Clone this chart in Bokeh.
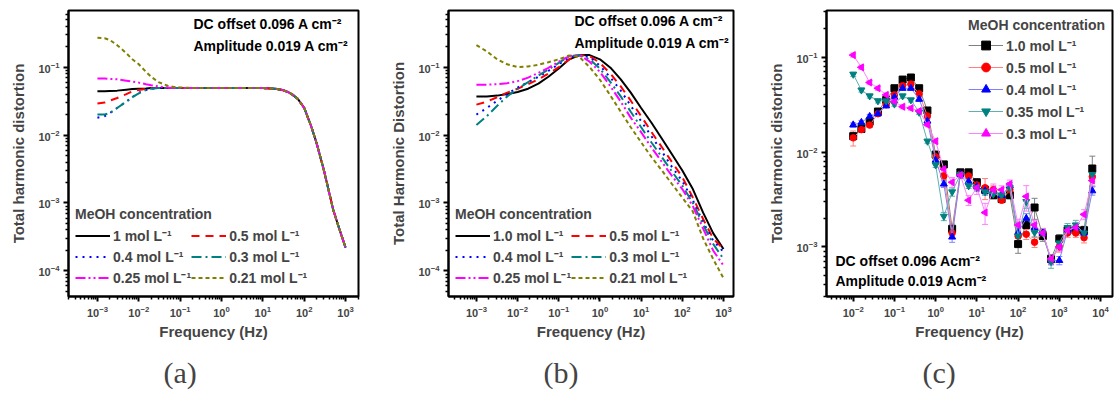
from bokeh.plotting import figure
from bokeh.layouts import row
from bokeh.models import (Range1d, FixedTicker, Legend, LegendItem, Label, Title,
                          Whisker, ColumnDataSource, TeeHead)
from bokeh.embed import file_html
from bokeh.resources import INLINE

# ---------------- Panel (a) data ----------------
freq_a = [0.001, 0.0015, 0.002, 0.003, 0.005, 0.007, 0.01, 0.015, 0.02, 0.03, 0.05, 0.07,
          0.1, 0.3, 1, 3, 10, 15, 20, 30, 40, 50, 70, 100, 150, 200, 300, 500, 700, 1000]
hf_a = [0.049, 0.049, 0.049, 0.049, 0.0485, 0.048, 0.046, 0.043, 0.040, 0.034, 0.025,
        0.013, 0.0075, 0.0030, 0.0008, 0.00042, 0.00022]
a_1p0 = [0.044, 0.044, 0.0445, 0.045, 0.0465, 0.0475, 0.048, 0.0485, 0.049, 0.049, 0.049, 0.049, 0.049] + hf_a
a_0p5 = [0.029, 0.030, 0.032, 0.035, 0.040, 0.044, 0.046, 0.048, 0.049, 0.049, 0.049, 0.049, 0.049] + hf_a
a_0p4 = [0.018, 0.019, 0.021, 0.025, 0.031, 0.036, 0.042, 0.046, 0.048, 0.049, 0.049, 0.049, 0.049] + hf_a
a_0p3 = [0.020, 0.020, 0.021, 0.025, 0.031, 0.036, 0.041, 0.046, 0.048, 0.049, 0.049, 0.049, 0.049] + hf_a
a_0p25 = [0.068, 0.068, 0.067, 0.066, 0.063, 0.061, 0.059, 0.056, 0.054, 0.052, 0.050, 0.0495, 0.049] + hf_a
a_0p21 = [0.27, 0.265, 0.25, 0.21, 0.16, 0.13, 0.11, 0.085, 0.072, 0.060, 0.053, 0.051, 0.050] + hf_a

# ---------------- Panel (b) data ----------------
freq_b = [0.001, 0.0018, 0.0032, 0.0056, 0.01, 0.018, 0.032, 0.056, 0.1, 0.18, 0.32, 0.56,
          1, 1.8, 3.2, 5.6, 10, 18, 32, 56, 100, 180, 320, 560, 1000]
b_1p0 = [0.037, 0.037, 0.038, 0.040, 0.043, 0.048, 0.057, 0.072, 0.095, 0.13, 0.15, 0.15,
         0.13, 0.098, 0.066, 0.042, 0.025, 0.015, 0.0088, 0.0052, 0.0030, 0.0016, 0.00072, 0.00036, 0.00021]
b_0p5 = [0.028, 0.031, 0.036, 0.042, 0.048, 0.056, 0.066, 0.080, 0.10, 0.13, 0.15, 0.145,
         0.115, 0.080, 0.052, 0.032, 0.019, 0.011, 0.0066, 0.0040, 0.0024, 0.0012, 0.00058, 0.00030, 0.00021]
b_0p4 = [0.020, 0.025, 0.032, 0.040, 0.050, 0.060, 0.072, 0.088, 0.11, 0.14, 0.15, 0.14,
         0.105, 0.070, 0.045, 0.027, 0.016, 0.0095, 0.0057, 0.0034, 0.0021, 0.0011, 0.00052, 0.00028, 0.00019]
b_0p3 = [0.014, 0.019, 0.027, 0.037, 0.048, 0.060, 0.075, 0.092, 0.115, 0.145, 0.15, 0.13,
         0.095, 0.060, 0.037, 0.022, 0.013, 0.0077, 0.0047, 0.0029, 0.0018, 0.0010, 0.00048, 0.00025, 0.00015]
b_0p25 = [0.055, 0.055, 0.056, 0.058, 0.062, 0.070, 0.082, 0.097, 0.12, 0.145, 0.15, 0.12,
          0.085, 0.052, 0.031, 0.018, 0.011, 0.0065, 0.0040, 0.0025, 0.0016, 0.0009, 0.00042, 0.00020, 0.00012]
b_0p21 = [0.21, 0.17, 0.13, 0.11, 0.10, 0.102, 0.108, 0.118, 0.13, 0.148, 0.14, 0.10,
          0.065, 0.038, 0.022, 0.013, 0.0078, 0.0047, 0.0030, 0.0019, 0.0012, 0.00075, 0.00030, 0.00015, 0.000078]

# ---------------- Panel (c) data ----------------
freq_c = [0.01, 0.0158, 0.0251, 0.0398, 0.0631, 0.1, 0.158, 0.251, 0.398, 0.631,
          1.0, 1.58, 2.51, 3.98, 6.31, 10.0, 15.8, 25.1, 39.8, 63.1,
          100, 158, 251, 398, 631, 1000, 1585, 2512, 3981, 6310]
c_1p0 = [0.0147, 0.0175, 0.021, 0.0267, 0.0354, 0.047, 0.058, 0.061, 0.047, 0.0274,
         0.0094, 0.0074, 0.00155, 0.0061, 0.0061, 0.0048, 0.0040, 0.0035, 0.0032, 0.0035,
         0.00107, 0.0017, 0.0026, 0.0013, 0.00075, 0.00122, 0.0015, 0.0015, 0.0015, 0.0067]
c_0p5 = [0.0141, 0.0172, 0.0192, 0.0253, 0.0315, 0.040, 0.050, 0.052, 0.041, 0.024,
         0.0089, 0.0056, 0.0014, 0.0058, 0.0056, 0.0045, 0.0042, 0.0040, 0.0031, 0.0040,
         0.0013, 0.00136, 0.00112, 0.0014, 0.00072, 0.0010, 0.0014, 0.0014, 0.00125, 0.0055]
c_0p4 = [0.0193, 0.0205, 0.0237, 0.0253, 0.0307, 0.0379, 0.047, 0.047, 0.036, 0.0212,
         0.0082, 0.0046, 0.00127, 0.0058, 0.0049, 0.0043, 0.0039, 0.0037, 0.0035, 0.0044,
         0.00142, 0.0020, 0.0016, 0.0014, 0.00072, 0.00072, 0.0015, 0.0016, 0.0014, 0.0039]
c_0p35 = [0.066, 0.045, 0.039, 0.0346, 0.0346, 0.032, 0.039, 0.0354, 0.0262, 0.013,
          0.0073, 0.0021, 0.0038, 0.0058, 0.0044, 0.0042, 0.0038, 0.0036, 0.0035, 0.0042,
          0.0013, 0.0030, 0.00142, 0.0014, 0.0007, 0.0011, 0.0016, 0.0017, 0.0014, 0.0058]
c_0p3 = [0.105, 0.078, 0.054, 0.047, 0.040, 0.034, 0.030, 0.029, 0.027, 0.0194,
         0.013, 0.0066, 0.0048, 0.0057, 0.0031, 0.0042, 0.0023, 0.0040, 0.0040, 0.0046,
         0.0017, 0.0034, 0.0017, 0.0014, 0.00075, 0.0010, 0.0015, 0.0016, 0.0022, 0.0050]
# relative error-bar half widths
e_1p0 = [0.06, 0.05, 0.05, 0.05, 0.05, 0.05, 0.05, 0.05, 0.05, 0.05,
         0.06, 0.08, 0.12, 0.06, 0.06, 0.08, 0.08, 0.08, 0.06, 0.08,
         0.20, 0.10, 0.25, 0.12, 0.10, 0.10, 0.08, 0.10, 0.10, 0.35]
e_0p5 = [0.18, 0.05, 0.05, 0.05, 0.05, 0.05, 0.05, 0.05, 0.05, 0.05,
         0.06, 0.08, 0.10, 0.06, 0.06, 0.10, 0.25, 0.10, 0.06, 0.08,
         0.15, 0.12, 0.12, 0.12, 0.10, 0.12, 0.10, 0.10, 0.12, 0.12]
e_0p4 = [0.05, 0.05, 0.05, 0.05, 0.05, 0.05, 0.05, 0.05, 0.05, 0.05,
         0.06, 0.08, 0.12, 0.06, 0.06, 0.08, 0.08, 0.08, 0.06, 0.08,
         0.12, 0.12, 0.10, 0.10, 0.10, 0.10, 0.08, 0.10, 0.10, 0.10]
e_0p35 = [0.05, 0.05, 0.05, 0.05, 0.05, 0.05, 0.05, 0.05, 0.05, 0.05,
          0.06, 0.10, 0.10, 0.06, 0.06, 0.08, 0.08, 0.08, 0.06, 0.08,
          0.12, 0.15, 0.10, 0.10, 0.15, 0.10, 0.10, 0.12, 0.10, 0.12]
e_0p3 = [0.05, 0.05, 0.05, 0.05, 0.05, 0.05, 0.05, 0.05, 0.05, 0.05,
         0.06, 0.10, 0.12, 0.06, 0.12, 0.15, 0.25, 0.15, 0.10, 0.10,
         0.15, 0.30, 0.12, 0.10, 0.10, 0.10, 0.10, 0.12, 0.12, 0.12]

labels_ab_a = ["1 mol L⁻¹", "0.5 mol L⁻¹", "0.4 mol L⁻¹", "0.3 mol L⁻¹", "0.25 mol L⁻¹", "0.21 mol L⁻¹"]
labels_ab_b = ["1.0 mol L⁻¹", "0.5 mol L⁻¹", "0.4 mol L⁻¹", "0.3 mol L⁻¹", "0.25 mol L⁻¹", "0.21 mol L⁻¹"]
labels_c = ["1.0 mol L⁻¹", "0.5 mol L⁻¹", "0.4 mol L⁻¹", "0.35 mol L⁻¹", "0.3 mol L⁻¹"]

FONT = "Liberation Sans"
line_colors = ["#000000", "#ff0000", "#0000ff", "#008080", "#ff00ff", "#808000"]
line_dashes = ["solid", "8 6", "2 5", "10 4 2 4", "10 3 2 3 2 3", "4 3"]


def minor(d0, d1):
    return [k * 10.0 ** d for d in range(d0, d1 + 1) for k in range(2, 10)]


def make_fig(xr, yr, width, left, right, ylabel, xmaj, ymaj, xmin, ymin, tag, tag_offset):
    p = figure(width=width, height=400, x_axis_type="log", y_axis_type="log",
               x_range=Range1d(*xr), y_range=Range1d(*yr),
               output_backend="svg", toolbar_location=None,
               min_border_left=left, min_border_right=right,
               min_border_top=10, min_border_bottom=102)
    p.grid.visible = False
    p.outline_line_color = "black"
    p.outline_line_width = 2
    p.outline_line_alpha = 1
    p.background_fill_color = "white"
    p.border_fill_color = "white"
    p.xaxis.ticker = FixedTicker(ticks=xmaj, minor_ticks=xmin)
    p.yaxis.ticker = FixedTicker(ticks=ymaj, minor_ticks=ymin)
    for ax in (p.xaxis[0], p.yaxis[0]):
        ax.axis_line_width = 2
        ax.major_tick_line_width = 2
        ax.minor_tick_line_width = 1.5
        ax.major_tick_out = 5
        ax.major_tick_in = 0
        ax.minor_tick_out = 3
        ax.minor_tick_in = 0
        ax.major_label_text_font = FONT
        ax.major_label_text_font_style = "bold"
        ax.major_label_text_font_size = "11px"
        ax.major_label_standoff = 4
        ax.axis_label_text_font = FONT
        ax.axis_label_text_font_style = "bold"
        ax.axis_label_text_font_size = "15px"
    p.xaxis.axis_label = "Frequency (Hz)"
    p.xaxis.axis_label_standoff = 3
    p.yaxis.axis_label = ylabel
    p.yaxis.axis_label_standoff = 8
    p.add_layout(Title(text=tag, text_font="Liberation Serif", text_font_size="30px",
                       text_font_style="normal", align="left", offset=tag_offset,
                       standoff=23), "below")
    return p


def add_text(p, x, y, text, size="14px"):
    p.add_layout(Label(x=x, y=y, x_units="screen", y_units="screen", text=text,
                       text_font=FONT, text_font_size=size, text_font_style="bold",
                       text_align="left", text_baseline="middle", text_color="black"))


def ab_panel(p, freq, series, labels, tx, ty):
    items = []
    for vals, lab, col, dash in zip(series, labels, line_colors, line_dashes):
        r = p.line(freq, vals, line_color=col, line_width=2, line_dash=dash)
        items.append(LegendItem(label=lab, renderers=[r]))
    leg = Legend(items=items, orientation="horizontal", ncols=2,
                 location=(7, 8), title="MeOH concentration",
                 title_text_font=FONT, title_text_font_style="bold", title_text_font_size="14px",
                 title_standoff=3,
                 label_text_font=FONT, label_text_font_style="bold", label_text_font_size="14px",
                 glyph_width=35, glyph_height=21, label_height=21, label_standoff=3,
                 spacing=0, padding=2, margin=0, border_line_color=None,
                 background_fill_alpha=0)
    p.add_layout(leg)
    add_text(p, tx, ty[0], "DC offset 0.096 A cm⁻²")
    add_text(p, tx, ty[1], "Amplitude 0.019 A cm⁻²")


xmaj_ab = [1e-3, 1e-2, 1e-1, 1e0, 1e1, 1e2, 1e3]
ymaj_ab = [1e-4, 1e-3, 1e-2, 1e-1]

# ---- (a)
pa = make_fig((2.0e-4, 2.05e3), (4.2e-5, 0.68), 387, 68, 29, "Total harmonic distortion",
              xmaj_ab, ymaj_ab, minor(-4, 3), minor(-5, -1), "(a)", 95)
ab_panel(pa, freq_a, [a_1p0, a_0p5, a_0p4, a_0p3, a_0p25, a_0p21], labels_ab_a, 125, (273, 251))

# ---- (b)
pb = make_fig((2.1e-4, 1.75e3), (4.2e-5, 0.68), 378, 60, 32, "Total Harmonic Distortion",
              xmaj_ab, ymaj_ab, minor(-4, 3), minor(-5, -1), "(b)", 95)
ab_panel(pb, freq_b, [b_1p0, b_0p5, b_0p4, b_0p3, b_0p25, b_0p21], labels_ab_b, 126, (276, 254))

# ---- (c)
pc = make_fig((2.25e-3, 1.95e4), (3.0e-4, 0.31), 350, 60, 3, "Total harmonic distortion",
              [1e-2, 1e-1, 1e0, 1e1, 1e2, 1e3, 1e4], [1e-3, 1e-2, 1e-1],
              minor(-3, 4), minor(-4, -1), "(c)", 96)
c_series = [c_1p0, c_0p5, c_0p4, c_0p35, c_0p3]
c_errs = [e_1p0, e_0p5, e_0p4, e_0p35, e_0p3]
c_cols = ["#000000", "#ff0000", "#0000ff", "#008080", "#ff00ff"]
c_light = ["#808080", "#ff8080", "#8080ff", "#5fb0b0", "#ff80ff"]
c_markers = ["square", "circle", "triangle", "inverted_triangle", "triangle"]
c_angles = [0, 0, 0, 0, 1.5708]
c_items = []
for vals, errs, lab, col, lc, mk, ang in zip(c_series, c_errs, labels_c, c_cols, c_light, c_markers, c_angles):
    src = ColumnDataSource(dict(x=freq_c, y=vals,
                                lo=[v * (1 - e) for v, e in zip(vals, errs)],
                                hi=[v * (1 + e) for v, e in zip(vals, errs)]))
    w = Whisker(source=src, base="x", upper="hi", lower="lo", line_color=lc, line_width=1,
                upper_head=TeeHead(size=6, line_color=lc, line_width=1),
                lower_head=TeeHead(size=6, line_color=lc, line_width=1))
    pc.add_layout(w)
    rl = pc.line("x", "y", source=src, line_color=lc, line_width=1)
    rs = pc.scatter("x", "y", source=src, marker=mk, angle=ang, size=7 if mk != "circle" else 6.5,
                    fill_color=col, line_color=col)
    c_items.append(LegendItem(label=lab, renderers=[rl, rs]))
legc = Legend(items=c_items, location="top_right", title="MeOH concentration",
              title_text_font=FONT, title_text_font_style="bold", title_text_font_size="14px",
              title_standoff=1,
              label_text_font=FONT, label_text_font_style="bold", label_text_font_size="14px",
              glyph_width=35, glyph_height=22, label_height=22, label_standoff=3,
              spacing=0, padding=2, margin=7, border_line_color=None, background_fill_alpha=0)
pc.add_layout(legc)
add_text(pc, 9, 36, "DC offset 0.096 Acm⁻²")
add_text(pc, 9, 16, "Amplitude 0.019 Acm⁻²")

layout = row(pa, pb, pc)
open("out.html", "w").write(file_html(layout, INLINE))
